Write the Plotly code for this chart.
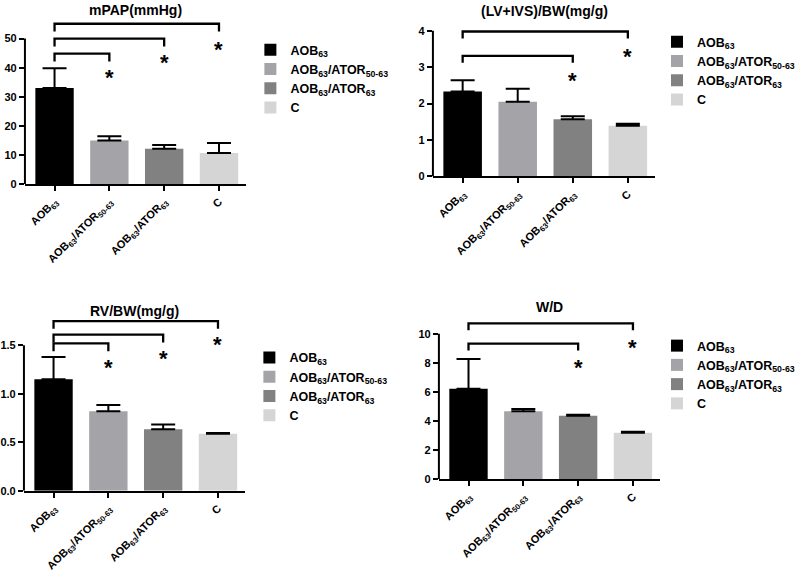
import plotly.graph_objects as go

W, H = 800, 574
FONT = "Liberation Sans, Arial, sans-serif"

# ---------------- data ----------------
categories = ["AOB<sub>63</sub>", "AOB<sub>63</sub>/ATOR<sub>50-63</sub>",
              "AOB<sub>63</sub>/ATOR<sub>63</sub>", "C"]

mpap_mean = [33.0, 15.0, 12.1, 10.7]
mpap_err = [6.8, 1.4, 1.3, 3.4]
mpap_ticks = [0, 10, 20, 30, 40, 50]
mpap_ticktext = ["0", "10", "20", "30", "40", "50"]
mpap_cmp = [1, 2, 3]
mpap_bracket = [44.8, 50.0, 55.1]
mpap_star = [38.4, 43.5, 47.9]

lv_mean = [2.33, 2.05, 1.57, 1.39]
lv_err = [0.31, 0.36, 0.08, 0.06]
lv_ticks = [0, 1, 2, 3, 4]
lv_ticktext = ["0", "1", "2", "3", "4"]
lv_cmp = [2, 3]
lv_bracket = [3.31, 3.98]
lv_star = [2.78, 3.44]

rv_mean = [1.15, 0.82, 0.636, 0.589]
rv_err = [0.23, 0.065, 0.048, 0.006]
rv_ticks = [0, 0.5, 1.0, 1.5]
rv_ticktext = ["0.0", "0.5", "1.0", "1.5"]
rv_cmp = [1, 2, 3]
rv_bracket = [1.52, 1.61, 1.75]
rv_star = [1.32, 1.42, 1.56]

wd_mean = [6.22, 4.66, 4.36, 3.18]
wd_err = [2.05, 0.16, 0.07, 0.07]
wd_ticks = [0, 2, 4, 6, 8, 10]
wd_ticktext = ["0", "2", "4", "6", "8", "10"]
wd_cmp = [2, 3]
wd_bracket = [9.32, 10.72]
wd_star = [8.04, 9.4]

titles = ["mPAP(mmHg)", "(LV+IVS)/BW(mg/g)", "RV/BW(mg/g)", "W/D"]

# ---------------- styles / layout (pixels) ----------------
colors = ["#000000", "#a4a4a8", "#818181", "#d5d5d5"]
X_RANGE = [-0.54, 3.5]

# left px, right px, zero px, px per unit, range max, bracket drop (units),
# title y px, legend x (px, anchor), legend top px
geom = [
    dict(xl=23, xr=245, y0=186, ppu=2.94, ymax=57, drop=2.7, ty=10, lx=249, la="left", ly=35.5),
    dict(xl=432, xr=655, y0=178.3, ppu=36.8, ymax=4.3, drop=0.19, ty=11, lx=800, la="right", ly=27.5),
    dict(xl=22, xr=244, y0=496, ppu=98, ymax=1.85, drop=0.08, ty=314, lx=248, la="left", ly=346.5),
    dict(xl=438, xr=660, y0=484, ppu=14.67, ymax=11.2, drop=0.48, ty=310, lx=800, la="right", ly=334.5),
]

panels = [
    (mpap_mean, mpap_err, mpap_ticks, mpap_ticktext, mpap_cmp, mpap_bracket, mpap_star),
    (lv_mean, lv_err, lv_ticks, lv_ticktext, lv_cmp, lv_bracket, lv_star),
    (rv_mean, rv_err, rv_ticks, rv_ticktext, rv_cmp, rv_bracket, rv_star),
    (wd_mean, wd_err, wd_ticks, wd_ticktext, wd_cmp, wd_bracket, wd_star),
]

fig = go.Figure()
layout = dict(
    width=W, height=H, margin=dict(l=0, r=0, t=0, b=0),
    paper_bgcolor="white", plot_bgcolor="white",
    barmode="overlay", showlegend=True,
    font=dict(family=FONT, color="black"),
)
shapes = []
annotations = []

for p, (mean, err, ticks, ticktext, cmp, bracket, star) in enumerate(panels):
    g = geom[p]
    n = "" if p == 0 else str(p + 1)
    xa, ya = "x" + n, "y" + n
    leg = "legend" + n

    for i, cat in enumerate(categories):
        fig.add_trace(go.Bar(
            x=[cat], y=[mean[i]], name=cat, xaxis=xa, yaxis=ya, legend=leg,
            width=0.7, marker=dict(color=colors[i], line=dict(width=0)),
            error_y=dict(type="data", symmetric=False, array=[err[i]], arrayminus=[0],
                         color="black", thickness=2, width=12),
            hoverinfo="skip",
        ))

    for t, lvl, s in zip(cmp, bracket, star):
        fig.add_trace(go.Scatter(
            x=[categories[0], categories[0], categories[t], categories[t]],
            y=[lvl - g["drop"], lvl, lvl, lvl - g["drop"]],
            mode="lines", line=dict(color="black", width=2.3),
            xaxis=xa, yaxis=ya, showlegend=False, hoverinfo="skip",
        ))
        annotations.append(dict(
            x=categories[t], y=s, xref=xa, yref=ya, text="*", showarrow=False,
            font=dict(family=FONT, size=22, weight="bold"), yshift=-5,
        ))

    top_px = g["y0"] - g["ymax"] * g["ppu"]
    layout["xaxis" + n] = dict(
        domain=[g["xl"] / W, g["xr"] / W], anchor=ya,
        type="category", categoryorder="array", categoryarray=categories,
        range=X_RANGE,
        showline=True, linecolor="black", linewidth=2,
        ticks="outside", ticklen=5, tickwidth=2, tickcolor="black",
        tickangle=-45, showgrid=False, zeroline=False, fixedrange=True,
        tickfont=dict(family=FONT, size=11, weight="bold"),
    )
    layout["yaxis" + n] = dict(
        domain=[(H - g["y0"]) / H, (H - top_px) / H], anchor=xa,
        range=[0, g["ymax"]], tickvals=ticks, ticktext=ticktext,
        showline=False, ticks="outside", ticklen=5, tickwidth=2, tickcolor="black",
        showgrid=False, zeroline=False, fixedrange=True,
        tickfont=dict(family=FONT, size=11, weight="bold"),
    )
    shapes.append(dict(
        type="line", xref=xa + " domain", yref=ya, x0=0, x1=0, y0=0, y1=ticks[-1],
        line=dict(color="black", width=2),
    ))
    annotations.append(dict(
        x=0.5, xref=xa + " domain", y=1 - g["ty"] / H, yref="paper",
        text=titles[p], showarrow=False, xanchor="center", yanchor="middle",
        font=dict(family=FONT, size=14, weight="bold"),
    ))
    layout[leg] = dict(
        x=g["lx"] / W, y=1 - g["ly"] / H, xanchor=g["la"], yanchor="top",
        xref="paper", yref="paper", bgcolor="rgba(0,0,0,0)",
        font=dict(family=FONT, size=12.5, weight="bold"), tracegroupgap=0,
        traceorder="normal",
    )

layout["shapes"] = shapes
layout["annotations"] = annotations
fig.update_layout(**layout)

css_fix = (
    "document.documentElement.style.cssText='margin:0;padding:0;overflow:hidden;';"
    "document.body.style.cssText='margin:0;padding:0;overflow:hidden;';"
    "document.querySelectorAll('.plotly-graph-div, .plot-container, .svg-container, svg.main-svg')"
    ".forEach(function(e){e.style.overflow='hidden';});"
)
fig.write_html("out.html", config={"displayModeBar": False}, post_script=css_fix)
